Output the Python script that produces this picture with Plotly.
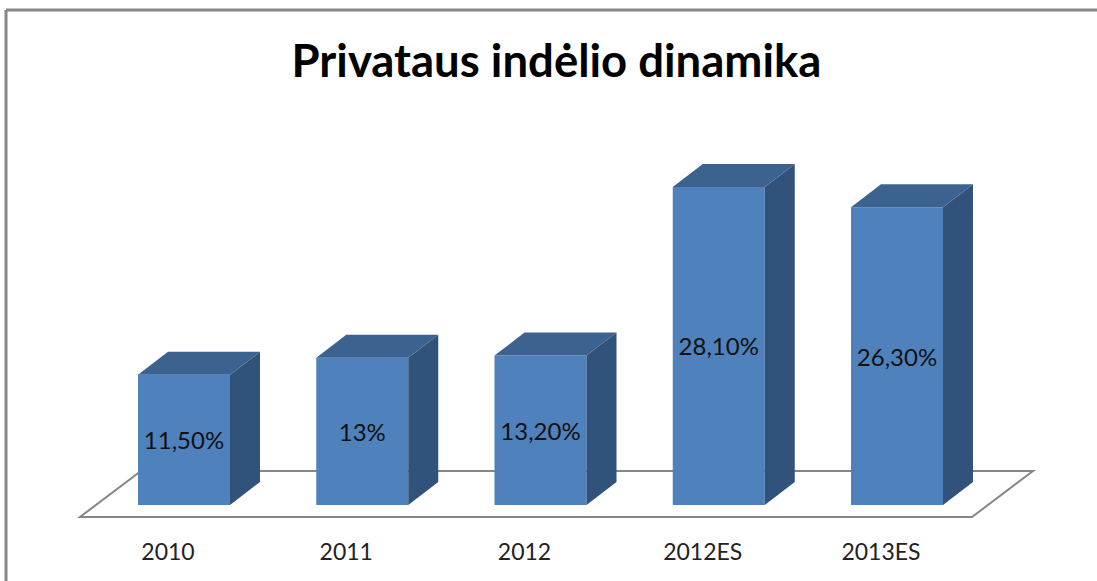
import plotly.graph_objects as go

categories = ["2010", "2011", "2012", "2012ES", "2013ES"]
values = [11.5, 13, 13.2, 28.1, 26.3]
value_labels = ["11,50%", "13%", "13,20%", "28,10%", "26,30%"]
title_text = "Privataus indėlio dinamika"

W, H = 1097, 581
PITCH = 178.25          # px per category
UNIT = 11.32            # px per value unit
X0, Y0 = 184, 505       # px of first bar centre and of the baseline
AXIS_BOTTOM = 530       # px of the plot-area bottom

BAR_W = 92 / PITCH
DX, DY = 30 / PITCH, 23 / UNIT
xs = list(range(len(categories)))

FRONT, SIDE, TOP = "#4F81BD", "#31527A", "#3C6290"
GRAY = "#868686"

fig = go.Figure()
fig.add_trace(go.Bar(
    x=xs, y=values, width=BAR_W, marker=dict(color=FRONT, line=dict(width=0)),
    text=value_labels, textposition="inside", insidetextanchor="middle", textangle=0,
    constraintext="none", cliponaxis=False,
    textfont=dict(family="Lato, Carlito, sans-serif", size=24, color="#111111"),
    hoverinfo="skip",
))
for x, v in zip(xs, values):
    l, r = x - BAR_W / 2, x + BAR_W / 2
    fig.add_trace(go.Scatter(
        x=[r, r + DX, r + DX, r, r], y=[0, DY, v + DY, v, 0],
        mode="lines", fill="toself", fillcolor=SIDE, line=dict(width=0), hoverinfo="skip"))
    fig.add_trace(go.Scatter(
        x=[l, l + DX, r + DX, r, l], y=[v, v + DY, v + DY, v, v],
        mode="lines", fill="toself", fillcolor=TOP, line=dict(width=0), hoverinfo="skip"))

# floor, in data units
fx0, fx1 = (80 - X0) / PITCH, (972 - X0) / PITCH
fy0, fy1 = (Y0 - 517) / UNIT, (Y0 - 471) / UNIT
fdx = 61 / PITCH
floor_path = (f"M {fx0} {fy0} L {fx1} {fy0} L {fx1 + fdx} {fy1} L {fx0 + fdx} {fy1} Z")

fig.update_layout(
    width=W, height=H, autosize=False,
    margin=dict(l=0, r=0, t=0, b=H - AXIS_BOTTOM, pad=0),
    paper_bgcolor="white", plot_bgcolor="rgba(0,0,0,0)",
    showlegend=False,
    title=dict(text=f"<b>{title_text}</b>", x=556.5 / W, xanchor="center", xref="paper",
               y=1 - 61 / H, yanchor="middle", yref="container",
               font=dict(family="Lato, Carlito, sans-serif", size=45.5, color="#000000")),
    xaxis=dict(range=[(0 - X0) / PITCH, (W - X0) / PITCH], showgrid=False, zeroline=False,
               showline=False, tickmode="array", tickvals=[x - 16 / PITCH for x in xs],
               ticktext=categories, ticks="outside", ticklen=1, tickcolor="rgba(0,0,0,0)",
               tickfont=dict(family="Lato, Carlito, sans-serif", size=23, color="#222222")),
    yaxis=dict(range=[(Y0 - AXIS_BOTTOM) / UNIT, Y0 / UNIT], visible=False),
    shapes=[
        dict(type="path", xref="x", yref="y", path=floor_path, layer="below",
             fillcolor="white", line=dict(color=GRAY, width=2)),
        dict(type="line", xref="paper", yref="paper", x0=6 / W, x1=1, y0=1 - 10 / (AXIS_BOTTOM), y1=1 - 10 / (AXIS_BOTTOM),
             line=dict(color=GRAY, width=3)),
        dict(type="line", xref="paper", yref="paper", x0=6 / W, x1=6 / W, y0=1 - 10 / (AXIS_BOTTOM), y1=1 - H / AXIS_BOTTOM,
             line=dict(color=GRAY, width=3)),
    ],
)

fig.write_html("out.html", config={"displayModeBar": False},
               post_script="document.body.style.margin='0';document.body.style.overflow='hidden';")
